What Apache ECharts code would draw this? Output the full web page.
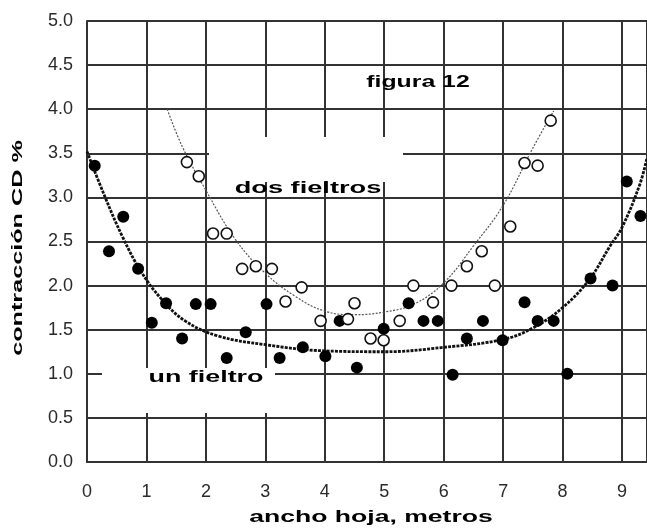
<!DOCTYPE html>
<html>
<head>
<meta charset="utf-8">
<script src="https://cdn.jsdelivr.net/npm/echarts@6/dist/echarts.min.js"></script>
<style>
html,body{margin:0;padding:0;background:#fff;}
#chart{width:647px;height:529px;}
</style>
</head>
<body>
<div id="chart"></div>
<script>
// ---- data ----
const unFieltroX = [0.13,0.37,0.61,0.86,1.09,1.33,1.60,1.83,2.08,2.35,2.67,3.02,3.24,3.63,4.01,4.25,4.54,4.99,5.41,5.66,5.90,6.15,6.39,6.66,6.99,7.36,7.58,7.85,8.08,8.47,8.84,9.08,9.31];
const unFieltroY = [3.36,2.39,2.78,2.19,1.58,1.80,1.40,1.79,1.79,1.18,1.47,1.79,1.18,1.30,1.20,1.60,1.07,1.51,1.80,1.60,1.60,0.99,1.40,1.60,1.38,1.81,1.60,1.60,1.00,2.08,2.00,3.18,2.79];

const dosFieltrosX = [1.68,1.88,2.12,2.35,2.61,2.84,3.11,3.34,3.61,3.93,4.39,4.50,4.77,4.99,5.26,5.49,5.82,6.13,6.39,6.64,6.86,7.12,7.36,7.58,7.80];
const dosFieltrosY = [3.40,3.24,2.59,2.59,2.19,2.22,2.19,1.82,1.98,1.60,1.62,1.80,1.40,1.38,1.60,2.00,1.81,2.00,2.22,2.39,2.00,2.67,3.39,3.36,3.87];

// trend curves, points
const trendUnX = [0, 0.3, 0.6, 0.9, 1.25, 1.65, 2.2, 3.0, 4.0, 5.0, 6.0, 7.0, 7.5, 8.0, 8.45, 8.8, 9.0, 9.3, 9.42];
const trendUnY = [3.52, 3.01, 2.55, 2.17, 1.85, 1.60, 1.43, 1.33, 1.26, 1.25, 1.30, 1.39, 1.52, 1.75, 2.07, 2.45, 2.66, 3.15, 3.45];

const trendDosX = [1.35, 1.6, 2.0, 2.5, 3.0, 3.5, 4.0, 4.5, 5.0, 5.5, 6.0, 6.5, 7.0, 7.5, 7.85];
const trendDosY = [4.00, 3.58, 3.08, 2.52, 2.14, 1.88, 1.71, 1.67, 1.70, 1.79, 2.03, 2.45, 2.91, 3.56, 3.98];

const xTickValues = [0,1,2,3,4,5,6,7,8,9];
const yTickValues = [0,0.5,1,1.5,2,2.5,3,3.5,4,4.5,5];

const titleText = 'figura 12';
const labelDos = 'dos fieltros';
const labelUn = 'un fieltro';
const xName = 'ancho hoja, metros';
const yName = 'contracción CD %';

const zip = (xs, ys) => xs.map((x, i) => [x, ys[i]]);

const chart = echarts.init(document.getElementById('chart'), null, {renderer: 'canvas'});
const gridColor = '#333';
const boldFont = 'bold 16px "Liberation Sans", Arial, sans-serif';

chart.setOption({
  animation: false,
  backgroundColor: '#fff',
  grid: {left: 87, right: 0, top: 21, bottom: 67, containLabel: false},
  xAxis: {
    type: 'value', min: 0, max: 9.42, interval: 1,
    axisLine: {show: true, onZero: false, lineStyle: {color: gridColor, width: 2}},
    axisTick: {show: false},
    splitLine: {show: true, lineStyle: {color: gridColor, width: 2}},
    axisLabel: {
      margin: 21, color: '#2a2a2a', fontSize: 18, fontFamily: 'Liberation Sans',
      showMaxLabel: false,
      formatter: v => xTickValues.indexOf(v) >= 0 ? String(v) : ''
    }
  },
  yAxis: {
    type: 'value', min: 0, max: 5, interval: 0.5,
    axisLine: {show: true, onZero: false, lineStyle: {color: gridColor, width: 2}},
    axisTick: {show: false},
    splitLine: {show: true, lineStyle: {color: gridColor, width: 2}},
    axisLabel: {
      margin: 14, color: '#2a2a2a', fontSize: 18, fontFamily: 'Liberation Sans',
      formatter: v => yTickValues.indexOf(v) >= 0 ? v.toFixed(1) : ''
    }
  },
  series: [
    {
      type: 'line', name: 'tendencia un fieltro', data: zip(trendUnX, trendUnY),
      smooth: 0.4, showSymbol: false, symbol: 'none', z: 3,
      lineStyle: {color: '#111', width: 2.8, type: [3, 1.2]}
    },
    {
      type: 'line', name: 'tendencia dos fieltros', data: zip(trendDosX, trendDosY),
      smooth: 0.4, showSymbol: false, symbol: 'none', z: 3,
      lineStyle: {color: '#555', width: 1.2, type: [2, 1.5]}
    },
    {
      type: 'scatter', name: labelUn, data: zip(unFieltroX, unFieltroY),
      symbol: 'circle', symbolSize: 12, z: 5,
      itemStyle: {color: '#000', opacity: 1}
    },
    {
      type: 'scatter', name: labelDos, data: zip(dosFieltrosX, dosFieltrosY),
      symbol: 'circle', symbolSize: 11, z: 5,
      itemStyle: {color: '#fff', borderColor: '#111', borderWidth: 1.6, opacity: 1}
    }
  ],
  graphic: [
    {type: 'rect', z: 1, shape: {x: 209, y: 137, width: 194, height: 45}, style: {fill: '#fff'}},
    {type: 'rect', z: 1, shape: {x: 102, y: 368, width: 173, height: 45}, style: {fill: '#fff'}},
    {type: 'text', z: 10, x: 418, y: 83, scaleX: 1.55,
     style: {text: titleText, font: boldFont, fill: '#000', textAlign: 'center', textVerticalAlign: 'middle'}},
    {type: 'text', z: 10, x: 308, y: 189, scaleX: 1.7,
     style: {text: labelDos, font: boldFont, fill: '#000', textAlign: 'center', textVerticalAlign: 'middle'}},
    {type: 'text', z: 10, x: 206, y: 378, scaleX: 1.68,
     style: {text: labelUn, font: boldFont, fill: '#000', textAlign: 'center', textVerticalAlign: 'middle'}},
    {type: 'text', z: 10, x: 371, y: 518, scaleX: 1.66,
     style: {text: xName, font: boldFont, fill: '#000', textAlign: 'center', textVerticalAlign: 'middle'}},
    {type: 'text', z: 10, x: 18, y: 248, rotation: Math.PI / 2, scaleX: 1.68,
     style: {text: yName, font: 'bold 15px "Liberation Sans", Arial, sans-serif', fill: '#000', textAlign: 'center', textVerticalAlign: 'middle'}}
  ]
});
</script>
</body>
</html>
